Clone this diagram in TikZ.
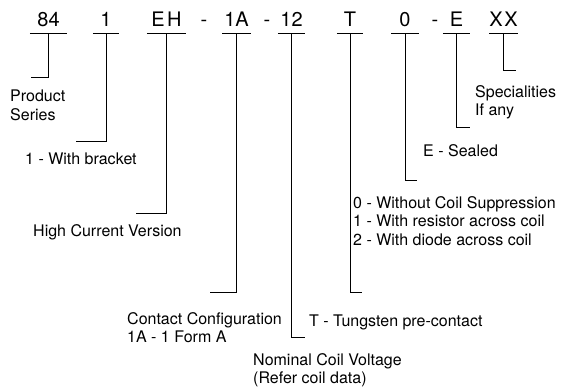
\documentclass[tikz,border=0pt]{standalone}
\usepackage{fontspec}
\setmainfont{TeX Gyre Heros}
\usetikzlibrary{positioning}
\tikzset{code/.style={font=\fontsize{20}{20}\selectfont,anchor=base,inner xsep=0pt,inner ysep=0pt,text depth=6pt},
  desc/.style={font=\fontsize{16}{18.6}\selectfont,anchor=north west,inner sep=0pt,align=left},
  lead/.style={line width=0.8pt}}

\begin{document}
\begin{tikzpicture}[x=1pt,y=-1pt]

\useasboundingbox (0,0) rectangle (561,390);

% The part number
\node[code,minimum width=37pt] (series) at (48.5,27) {84};
\node[code,minimum width=26pt] (bracket) at (106,27) {1};
\node[code,minimum width=39pt] (current) at (166.5,27) {E\kern2.5pt H};
\node[code] (dash1) at (204,27) {-};
\node[code,minimum width=28pt] (contact) at (236.5,27) {1A};
\node[code] (dash2) at (267,27) {-};
\node[code,minimum width=27pt] (voltage) at (291.5,27) {12};
\node[code,minimum width=26pt] (tungsten) at (350,27) {T};
\node[code,minimum width=27pt] (suppress) at (405,27) {0};
\node[code] (dash3) at (435,27) {-};
\node[code,minimum width=27pt] (sealed) at (456.5,27) {E};
\node[code,minimum width=27pt] (special) at (503.5,27) {X\kern1.5pt X};

% Underlines
\foreach \n in {series,bracket,current,contact,voltage,tungsten,suppress,sealed,special}
  \draw[lead] (\n.south west) -- (\n.south east);

% The leader ends
\coordinate (series-end) at (31,77);
\coordinate (bracket-end) at (76,141);
\coordinate (current-end) at (136,213);
\coordinate (contact-end) at (210,292);
\coordinate (voltage-end) at (305,337);
\coordinate (tungsten-end) at (362,292);
\coordinate (suppress-end) at (417,180);
\coordinate (sealed-end) at (470,127);
\coordinate (special-end) at (516,70);

\foreach \n in {series,bracket,current,contact,voltage,tungsten,suppress,sealed,special}
  \draw[lead] (\n.south) |- (\n-end);

% Descriptions
\node[desc] (series-txt) at (10,90) {Product\\Series};
\node[desc] (bracket-txt) at (25,153) {1 - With bracket};
\node[desc] (current-txt) at (33,224) {High Current Version};
\node[desc] (contact-txt) at (127,312) {Contact Configuration\\1A - 1 Form A};
\node[desc] (voltage-txt) at (253,353) {Nominal Coil Voltage\\(Refer coil data)};
\node[desc] (tungsten-txt) at (309,315) {T - Tungsten pre-contact};
\node[desc] (suppress-txt) at (353,196) {0 - Without Coil Suppression\\1 - With resistor across coil\\2 - With diode across coil};
\node[desc] (sealed-txt) at (423,144) {E - Sealed};
\node[desc] (special-txt) at (475,85) {Specialities\\If any};

\end{tikzpicture}
\end{document}
